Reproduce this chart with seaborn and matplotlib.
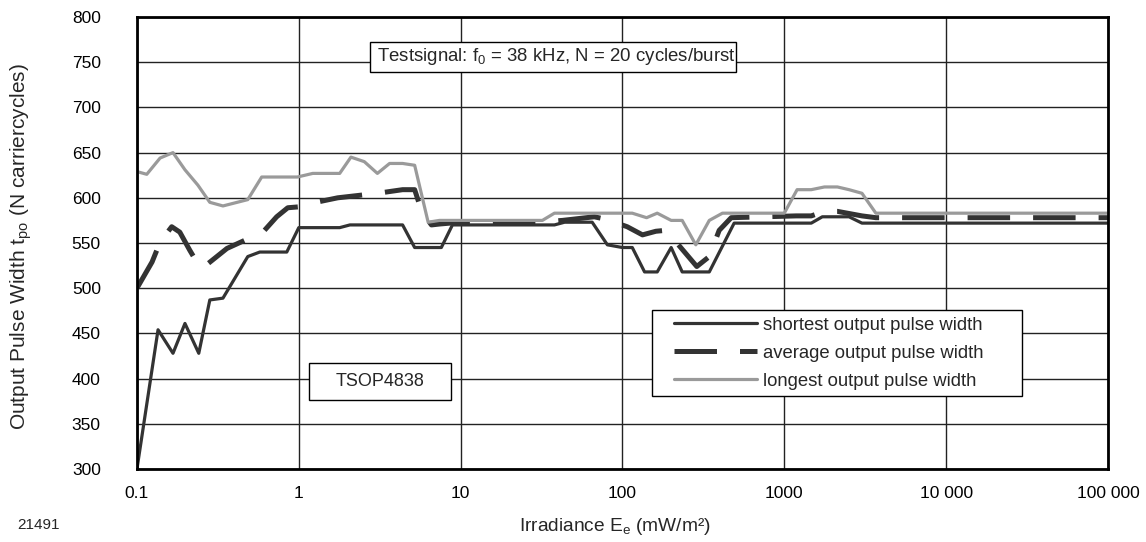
import numpy as np
import pandas as pd
import matplotlib
matplotlib.use("Agg")
import matplotlib.pyplot as plt
from matplotlib.patches import Rectangle
import seaborn as sns

# values (irradiance in mW/m², pulse width in carrier cycles)
short_x = [0.1, 0.135, 0.167, 0.198, 0.241, 0.282, 0.34, 0.484, 0.574, 0.843, 1.0, 1.79, 2.07,
           4.38, 5.2, 7.6, 8.9, 38, 43.9, 65, 80.7, 100, 115, 137, 164, 200, 234, 344, 490,
           1468, 1718, 2512, 3020, 100000]
short_y = [300, 454, 428, 461, 428, 487, 489, 535, 540, 540, 567, 567, 570,
           570, 545, 545, 570, 570, 573, 573, 548, 545, 545, 518, 518, 545, 518, 518, 572,
           572, 579, 579, 572, 572]

avg_x = [0.1, 0.124, 0.139, 0.164, 0.184, 0.212, 0.245, 0.274, 0.36, 0.477, 0.6, 0.73, 0.855,
         1.0, 1.2, 1.74, 3.06, 4.38, 5.2, 5.75, 6.6, 7.4, 10, 30, 42.6, 67, 80, 107, 133, 161,
         185, 217, 288, 344, 396, 470, 1186, 1468, 1770, 2130, 3020, 3680, 100000]
avg_y = [500, 529, 551, 568, 562, 542, 523, 527, 544, 554, 562, 579, 589,
         590, 594, 600, 605, 609, 609, 585, 570, 571, 573, 573, 575, 579, 576, 568, 559, 563,
         564, 550, 524, 535, 564, 578, 580, 580, 585, 585, 580, 578, 578]

long_x = [0.1, 0.115, 0.139, 0.167, 0.198, 0.238, 0.282, 0.34, 0.484, 0.59, 0.98, 1.22, 1.79,
          2.1, 2.54, 3.06, 3.64, 4.38, 5.2, 6.3, 7.4, 32, 38, 115, 141, 164, 200, 234, 284,
          344, 415, 1000, 1200, 1468, 1770, 2130, 2512, 3020, 3680, 100000]
long_y = [629, 626, 644, 650, 631, 614, 595, 591, 598, 623, 623, 627, 627,
          645, 640, 627, 638, 638, 636, 573, 575, 575, 583, 583, 578, 583, 575, 575, 548,
          575, 583, 583, 609, 609, 612, 612, 609, 605, 583, 583]

x_ticks = [0.1, 1, 10, 100, 1000, 10000, 100000]
x_ticklabels = ["0.1", "1", "10", "100", "1000", "10 000", "100 000"]
y_ticks = list(range(300, 801, 50))

sns.set_style("white")
plt.rcParams["font.family"] = ["Liberation Sans", "DejaVu Sans"]
plt.rcParams["mathtext.fontset"] = "custom"
plt.rcParams["mathtext.rm"] = "Liberation Sans"
plt.rcParams["mathtext.it"] = "Liberation Sans"

DARK = "#333333"
GREY = "#9a9a9a"

fig = plt.figure(figsize=(11.46, 5.42), dpi=100)
ax = fig.add_axes([0.1195, 0.1347, 0.8473, 0.8339])

sns.lineplot(x=short_x, y=short_y, ax=ax, color=DARK, lw=2.3,
             label="shortest output pulse width")
sns.lineplot(x=avg_x, y=avg_y, ax=ax, color=DARK, lw=3.6,
             label="average output pulse width")
sns.lineplot(x=long_x, y=long_y, ax=ax, color=GREY, lw=2.3,
             label="longest output pulse width")
ax.lines[1].set_dashes((8.5, 4.6))

ax.set_xscale("log")
ax.set_xlim(0.1, 100000)
ax.set_ylim(300, 800)
ax.set_xticks(x_ticks)
ax.set_xticklabels(x_ticklabels)
ax.set_yticks(y_ticks)
ax.minorticks_off()
ax.tick_params(axis="both", length=0, labelsize=12.5, colors="black")
ax.tick_params(axis="y", pad=26)
ax.tick_params(axis="x", pad=12)
ax.grid(True, color="#222222", lw=1.0)
ax.set_axisbelow(True)
for s in ax.spines.values():
    s.set_color("black")
    s.set_linewidth(2.0)

ax.set_ylabel("Output Pulse Width t$_{po}$ (N carriercycles)", fontsize=15)
ax.yaxis.set_label_coords(-0.106, 0.493)
ax.set_xlabel("Irradiance E$_e$ (mW/m²)", fontsize=13.8)
ax.xaxis.set_label_coords(0.492, -0.104)

# boxed annotations
ax.add_patch(Rectangle((0.240, 0.878), 0.377, 0.067, transform=ax.transAxes,
                       fc="white", ec="black", lw=1.0, zorder=4))
ax.text(0.2472, 0.912, "Testsignal: f$_0$ = 38 kHz, N = 20 cycles/burst", transform=ax.transAxes,
        fontsize=13.4, ha="left", va="center", zorder=5)
ax.add_patch(Rectangle((0.177, 0.1527), 0.1464, 0.0818, transform=ax.transAxes,
                       fc="white", ec="black", lw=1.0, zorder=4))
ax.text(0.250, 0.194, "TSOP4838", transform=ax.transAxes, fontsize=13,
        ha="center", va="center", zorder=5)

# legend box drawn separately, legend itself frameless
ax.add_patch(Rectangle((0.530, 0.1615), 0.3814, 0.1903, transform=ax.transAxes,
                       fc="white", ec="black", lw=1.0, zorder=4))
leg = ax.legend(loc="upper left", bbox_to_anchor=(0.553, 0.337), fontsize=13.3,
                frameon=False, handlelength=4.5, handletextpad=0.32,
                labelspacing=0.6, borderpad=0, borderaxespad=0)
leg.set_zorder(6)

fig.text(0.015, 0.031, "21491", fontsize=11, ha="left", va="center")

fig.savefig("out.png", dpi=100)
